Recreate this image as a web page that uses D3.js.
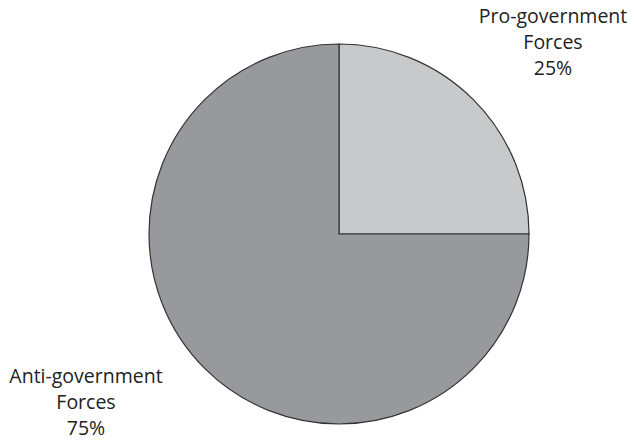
<!DOCTYPE html>
<html>
<head>
<meta charset="utf-8">
<script src="https://cdn.jsdelivr.net/npm/d3@7"></script>
<style>
  html, body { margin: 0; padding: 0; background: #fff; }
  svg text { font-family: "Open Sans", sans-serif; fill: #222; }
</style>
</head>
<body>
<svg id="chart" width="634" height="443"></svg>
<script>
// Share of forces by side
const categories = ["Pro-government Forces", "Anti-government Forces"];
const labelLines = [["Pro-government", "Forces"], ["Anti-government", "Forces"]];
const values = [25, 75];
const colors = ["#c8c9cb", "#98999c"];

const svg = d3.select("#chart");
const cx = 339, cy = 234, radius = 190;

const pie = d3.pie().sort(null).value(d => d.value);
const data = categories.map((c, i) => ({ name: c, value: values[i], lines: labelLines[i], color: colors[i] }));
const arcs = pie(data);
const arc = d3.arc().innerRadius(0).outerRadius(radius);

const g = svg.append("g").attr("transform", `translate(${cx},${cy})`);
g.selectAll("path")
  .data(arcs)
  .join("path")
  .attr("d", arc)
  .attr("fill", d => d.data.color)
  .attr("stroke", "#333")
  .attr("stroke-width", 1.2);

// Labels placed outside the pie, near each slice
const labelPos = [[553, 23], [86, 383]];
const lineH = 26;
arcs.forEach((a, i) => {
  const t = svg.append("text")
    .attr("text-anchor", "middle")
    .attr("font-size", 19.5);
  const [x, y] = labelPos[i];
  a.data.lines.concat([a.data.value + "%"]).forEach((s, j) => {
    t.append("tspan").attr("x", x).attr("y", y + j * lineH).text(s);
  });
});
</script>
</body>
</html>
